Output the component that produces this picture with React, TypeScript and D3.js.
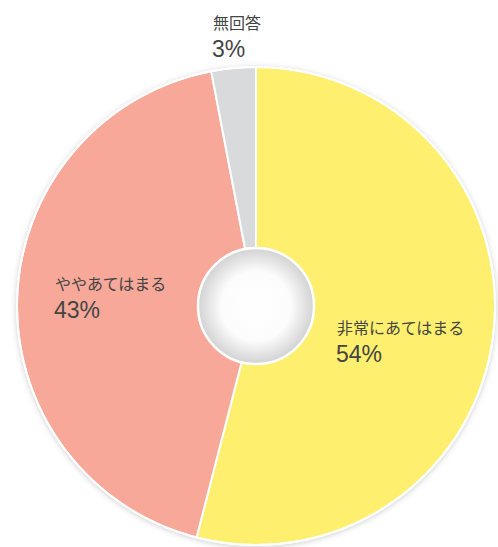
import React from "react";
import * as d3 from "d3";

const categories = ["非常にあてはまる", "ややあてはまる", "無回答"];
const values = [54, 43, 3];
const colors = ["#fef06e", "#f7a899", "#d9dadc"];
const labelPositions: [number, number][] = [
  [337, 334],
  [55, 290],
  [213, 29],
];

const W = 498;
const H = 547;
const cx = 256;
const cy = 306;
const rOuter = 239;
const rInner = 58;

export default function App() {
  const pie = d3
    .pie<number>()
    .sort(null)
    .value((d) => d)(values);
  const arc = d3
    .arc<d3.PieArcDatum<number>>()
    .innerRadius(rInner)
    .outerRadius(rOuter);
  return (
    <svg
      width={W}
      height={H}
      style={{ position: "absolute", left: 0, top: 0 }}
    >
      <defs>
        <filter id="ds" x="-10%" y="-10%" width="120%" height="120%">
          <feDropShadow dx="0" dy="1" stdDeviation="3" floodColor="#000" floodOpacity="0.25" />
        </filter>
        <radialGradient id="hole" cx="50%" cy="50%" r="50%">
          <stop offset="0%" stopColor="#ffffff" />
          <stop offset="60%" stopColor="#fcfcfc" />
          <stop offset="100%" stopColor="#d2d2d2" />
        </radialGradient>
      </defs>
      <rect width={W} height={H} fill="#fff" />
      <g transform={`translate(${cx},${cy})`}>
        <circle r={rOuter} fill="#fff" filter="url(#ds)" />
        {pie.map((p, i) => (
          <path key={i} d={arc(p) || ""} fill={colors[i]} stroke="#fff" strokeWidth={2} />
        ))}
        <circle r={rOuter} fill="none" stroke="#fff" strokeWidth={2} />
        <circle r={rInner} fill="url(#hole)" stroke="#fff" strokeWidth={2.5} />
      </g>
      {categories.map((c, i) => (
        <g key={c} fill="#444">
          <text
            x={labelPositions[i][0]}
            y={labelPositions[i][1]}
            fontFamily="'Noto Sans CJK JP', sans-serif"
            fontSize={16}
          >
            {c}
          </text>
          <text
            x={labelPositions[i][0] - 1}
            y={labelPositions[i][1] + 28}
            fontFamily="'Liberation Sans', Arial, sans-serif"
            fontSize={23}
          >
            {values[i]}%
          </text>
        </g>
      ))}
    </svg>
  );
}
